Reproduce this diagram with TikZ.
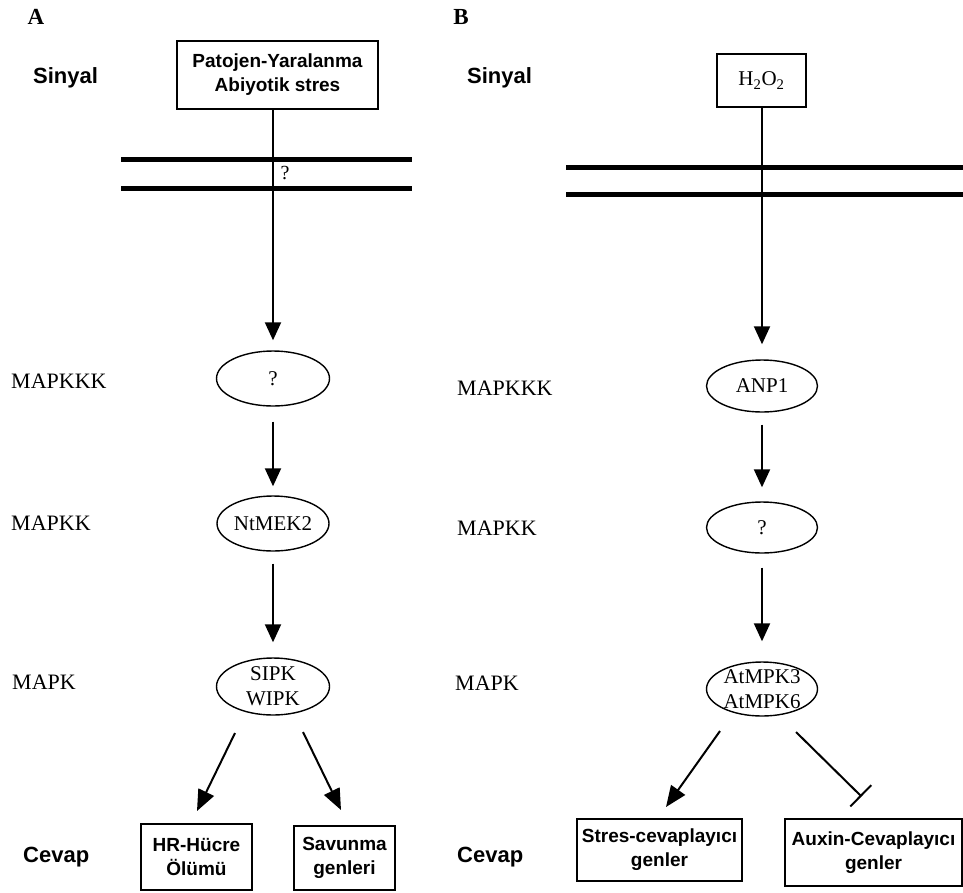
\documentclass[tikz,border=0pt]{standalone}
\usepackage{fontspec}
\setmainfont{Liberation Serif}
\setsansfont{Liberation Sans}
\usetikzlibrary{shapes.geometric,arrows.meta}
\begin{document}
\begin{tikzpicture}[x=1pt,y=-1pt,
  lbl/.style={font=\fontsize{22}{24}\selectfont, anchor=west, inner sep=0pt},
  sig/.style={font=\sffamily\bfseries\fontsize{22}{24}\selectfont, anchor=west, inner sep=0pt},
  panel/.style={font=\bfseries\fontsize{23}{24}\selectfont, inner sep=0pt},
  sbox/.style={draw, line width=1.9pt, inner sep=0pt, align=center, font=\sffamily\bfseries\fontsize{19}{24}\selectfont},
  rbox/.style={draw, line width=1.9pt, inner sep=0pt, align=center, font=\fontsize{21}{25}\selectfont},
  kin/.style={draw, ellipse, line width=1.4pt, inner sep=-6pt, align=center, font=\fontsize{21}{25}\selectfont},
  arr/.style={line width=2pt, -{Triangle[width=16pt,length=18pt]}},
  darr/.style={line width=2pt, -{Triangle[width=17pt,length=21pt]}},
  inh/.style={line width=2pt, -{Bar[width=30pt]}},
  mem/.style={line width=5pt},
]
\useasboundingbox (0,0) rectangle (963,892);
\fill[white] (0,0) rectangle (963,892);

% panel letters
\node[panel] (pA) at (36,17) {A};
\node[panel] (pB) at (461,17) {B};

% row labels left
\node[sig] (sL) at (33,78) {Sinyal};
\node[lbl] (l1) at (11,381) {MAPKKK};
\node[lbl] (l2) at (11,523) {MAPKK};
\node[lbl] (l3) at (12,682) {MAPK};
\node[sig] (cL) at (23,857) {Cevap};

% row labels right
\node[sig] (sR) at (467,78) {Sinyal};
\node[lbl] (m1) at (457,388) {MAPKKK};
\node[lbl] (m2) at (457,528) {MAPKK};
\node[lbl] (m3) at (455,683) {MAPK};
\node[sig] (cR) at (457,857) {Cevap};

% membranes
\draw[mem] (121,159) -- (412,159);
\draw[mem] (121,188) -- (412,188);
\draw[mem] (566,167) -- (963,167);
\draw[mem] (566,194) -- (963,194);

% panel A
\node[sbox, minimum width=201pt, minimum height=68pt] (bA) at (277.5,75) {Patojen-Yaralanma\\Abiyotik stres};
\node[kin, minimum width=113pt, minimum height=55pt] (k1) at (273,378.5) {?};
\node[kin, minimum width=112pt, minimum height=55pt] (k2) at (273,523.5) {NtMEK2};
\node[kin, minimum width=113pt, minimum height=57pt] (k3) at (273,686.5) {SIPK\\WIPK};
\node[font=\fontsize{20}{22}\selectfont, inner sep=0pt] (qA) at (285,173) {?};
\node[sbox, minimum width=111pt, minimum height=66pt] (hr) at (196.5,857) {HR-Hücre\\Ölümü};
\node[sbox, minimum width=101pt, minimum height=64pt] (sv) at (344.5,858) {Savunma\\genleri};

\draw[arr, shorten >=10pt] (bA.south -| k1.north) -- (k1.north);
\draw[arr, shorten <=15pt, shorten >=9pt] (k1.south) -- (k2.north);
\draw[arr, shorten <=12pt, shorten >=15pt] (k2.south) -- (k3.north);
\coordinate (a1s) at (235,733);
\coordinate (a1e) at (197,811);
\coordinate (a2s) at (303,732);
\coordinate (a2e) at (341,810);
\draw[darr] (a1s) -- (a1e);
\draw[darr] (a2s) -- (a2e);

% panel B
\node[rbox, minimum width=89pt, minimum height=53pt] (bB) at (761.5,80.5) {H\textsubscript{2}O\textsubscript{2}};
\node[kin, minimum width=111pt, minimum height=52pt] (r1) at (762,386) {ANP1};
\node[kin, minimum width=111pt, minimum height=51pt] (r2) at (762,527.5) {?};
\node[kin, minimum width=111pt, minimum height=54pt] (r3) at (762,689) {AtMPK3\\AtMPK6};
\node[sbox, minimum width=165pt, minimum height=62pt] (st) at (659.5,850) {Stres-cevaplayıcı\\genler};
\node[sbox, minimum width=177pt, minimum height=67pt] (ax) at (873.5,852.5) {Auxin-Cevaplayıcı\\genler};

\draw[arr, shorten >=15pt] (bB.south -| r1.north) -- (r1.north);
\draw[arr, shorten <=12pt, shorten >=14pt] (r1.south) -- (r2.north);
\draw[arr, shorten <=14pt, shorten >=20pt] (r2.south) -- (r3.north);
\coordinate (b1s) at (720,731);
\coordinate (b1e) at (666,807);
\coordinate (b2s) at (796,732);
\coordinate (b2e) at (861.5,796.5);
\draw[darr] (b1s) -- (b1e);
\draw[inh] (b2s) -- (b2e);
\end{tikzpicture}
\end{document}
